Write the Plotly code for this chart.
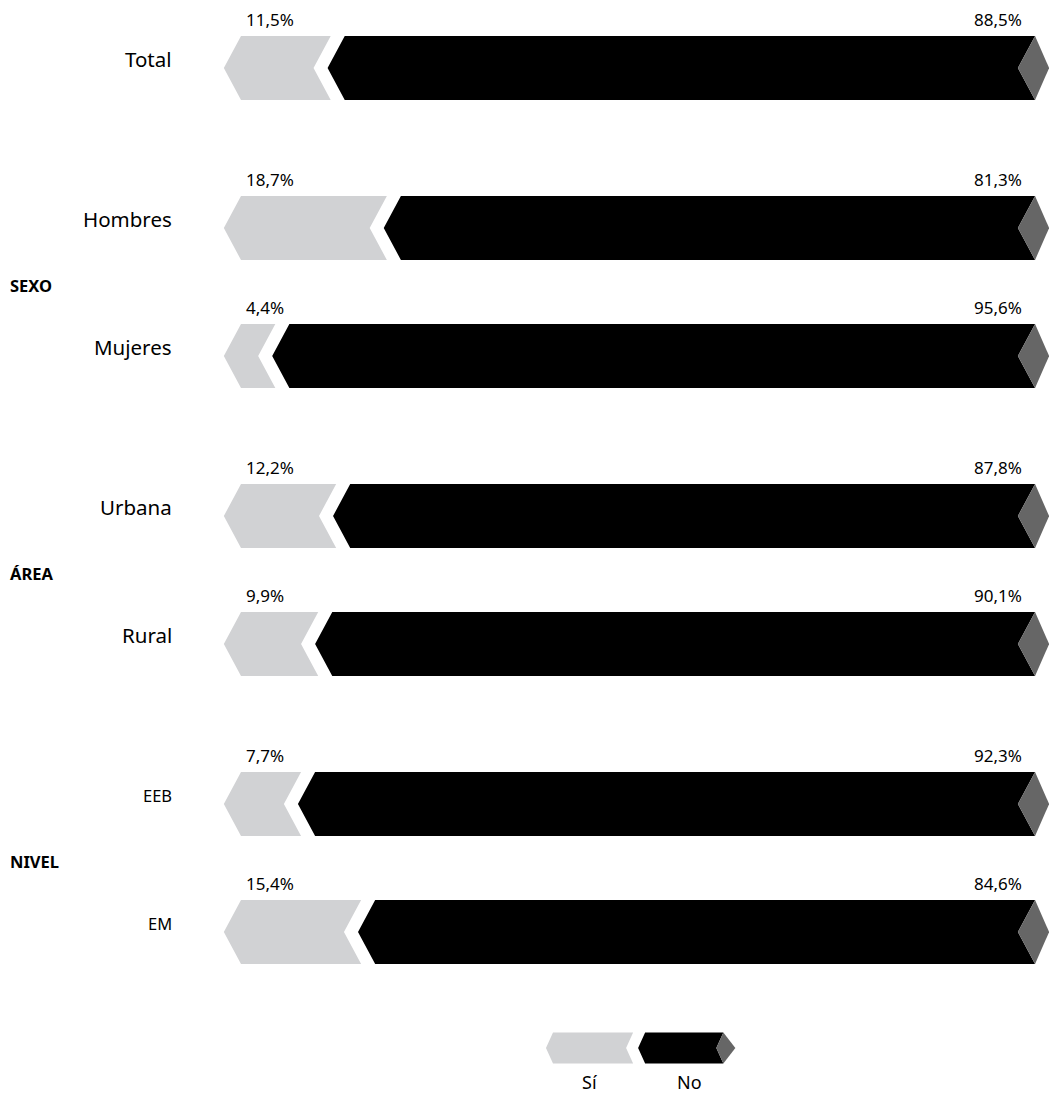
import plotly.graph_objects as go

# ---- data ----
categories = ["Total", "Hombres", "Mujeres", "Urbana", "Rural", "EEB", "EM"]
groups = ["", "SEXO", "SEXO", "ÁREA", "ÁREA", "NIVEL", "NIVEL"]
si_values = [11.5, 18.7, 4.4, 12.2, 9.9, 7.7, 15.4]
no_values = [88.5, 81.3, 95.6, 87.8, 90.1, 92.3, 84.6]
si_labels = ["11,5%", "18,7%", "4,4%", "12,2%", "9,9%", "7,7%", "15,4%"]
no_labels = ["88,5%", "81,3%", "95,6%", "87,8%", "90,1%", "92,3%", "84,6%"]
legend_names = ["Sí", "No"]
legend_values = [50.6, 49.4]

# ---- style ----
C_SI = "#d1d2d4"
C_NO = "#000000"
C_TIP = "#666666"
FONT = "Noto Sans"
GAP = 1.8      # gap between segments (x units)
DEPTH = 2.2    # chevron depth (x units)
TIP = 1.8      # diamond extension
HALF = 0.25    # bar half-height (row units)

# row positions: index plus extra gap for each new group
ypos = []
g = 0
prev = None
for i, grp in enumerate(groups):
    if i > 0 and grp != prev:
        g += 1
    ypos.append(i + 0.25 * g)
    prev = grp

fig = go.Figure()


def poly(xs, ys, color):
    fig.add_trace(go.Scatter(x=xs + [xs[0]], y=ys + [ys[0]], fill="toself",
                             fillcolor=color, mode="lines",
                             line=dict(width=0, color=color),
                             hoverinfo="skip", showlegend=False))


def bar_shapes(si, yc, h, d, tip, gap, x0=0.0, scale=1.0):
    top, bot = yc - h, yc + h
    s_end = x0 + si * scale
    poly([x0, s_end, s_end - d, s_end, x0, x0 - d],
         [top, top, yc, bot, bot, yc], C_SI)
    b0 = s_end + gap
    b1 = x0 + 100 * scale + gap
    poly([b0, b1, b1 - d, b1, b0, b0 - d],
         [top, top, yc, bot, bot, yc], C_NO)
    poly([b1, b1 + tip, b1, b1 - d],
         [top, yc, bot, yc], C_TIP)
    return s_end, b1


annotations = []
for cat, si, no, sl, nl, yc in zip(categories, si_values, no_values,
                                    si_labels, no_labels, ypos):
    bar_shapes(si, yc, HALF, DEPTH, TIP, GAP)
    annotations.append(dict(x=0.4, y=yc - HALF - 0.13, text=sl, xref="x", yref="y",
                            xanchor="left", yanchor="middle", showarrow=False,
                            font=dict(family=FONT, size=17, color="#000")))
    annotations.append(dict(x=100.4, y=yc - HALF - 0.13, text=nl, xref="x", yref="y",
                            xanchor="right", yanchor="middle", showarrow=False,
                            font=dict(family=FONT, size=17, color="#000")))
    small = cat.isupper()
    annotations.append(dict(x=-8.6, y=yc - 0.07, text=cat, xref="x", yref="y",
                            xanchor="right", yanchor="middle", showarrow=False,
                            font=dict(family=FONT, size=16.5 if small else 20.5, color="#000")))

# group labels
seen = {}
for grp, yc in zip(groups, ypos):
    if grp:
        seen.setdefault(grp, []).append(yc)
for grp, ys in seen.items():
    annotations.append(dict(x=0.008, y=sum(ys) / len(ys) - 0.05, text="<b>" + grp + "</b>",
                            xref="paper", yref="y", xanchor="left", yanchor="middle",
                            showarrow=False,
                            font=dict(family=FONT, size=16.5, color="#000")))

# legend (drawn)
ly = 7.656
lscale = 0.203
lx0 = 40.0
s_end, b1 = bar_shapes(legend_values[0], ly, 0.121, 0.9, 1.54, 1.54, x0=lx0, scale=lscale)
annotations.append(dict(x=44.7, y=7.92, text=legend_names[0], xref="x", yref="y",
                        xanchor="center", yanchor="middle", showarrow=False,
                        font=dict(family=FONT, size=18, color="#000")))
annotations.append(dict(x=57.5, y=7.92, text=legend_names[1], xref="x", yref="y",
                        xanchor="center", yanchor="middle", showarrow=False,
                        font=dict(family=FONT, size=18, color="#000")))

fig.update_layout(
    width=1049, height=1093,
    margin=dict(l=0, r=0, t=0, b=0),
    paper_bgcolor="white", plot_bgcolor="white",
    xaxis=dict(range=[-241 / 7.8, 808 / 7.8], visible=False, fixedrange=True),
    yaxis=dict(range=[(1093 - 68) / 128, -68 / 128], visible=False, fixedrange=True),
    annotations=annotations,
    showlegend=False,
)

fig.write_html("out.html")
